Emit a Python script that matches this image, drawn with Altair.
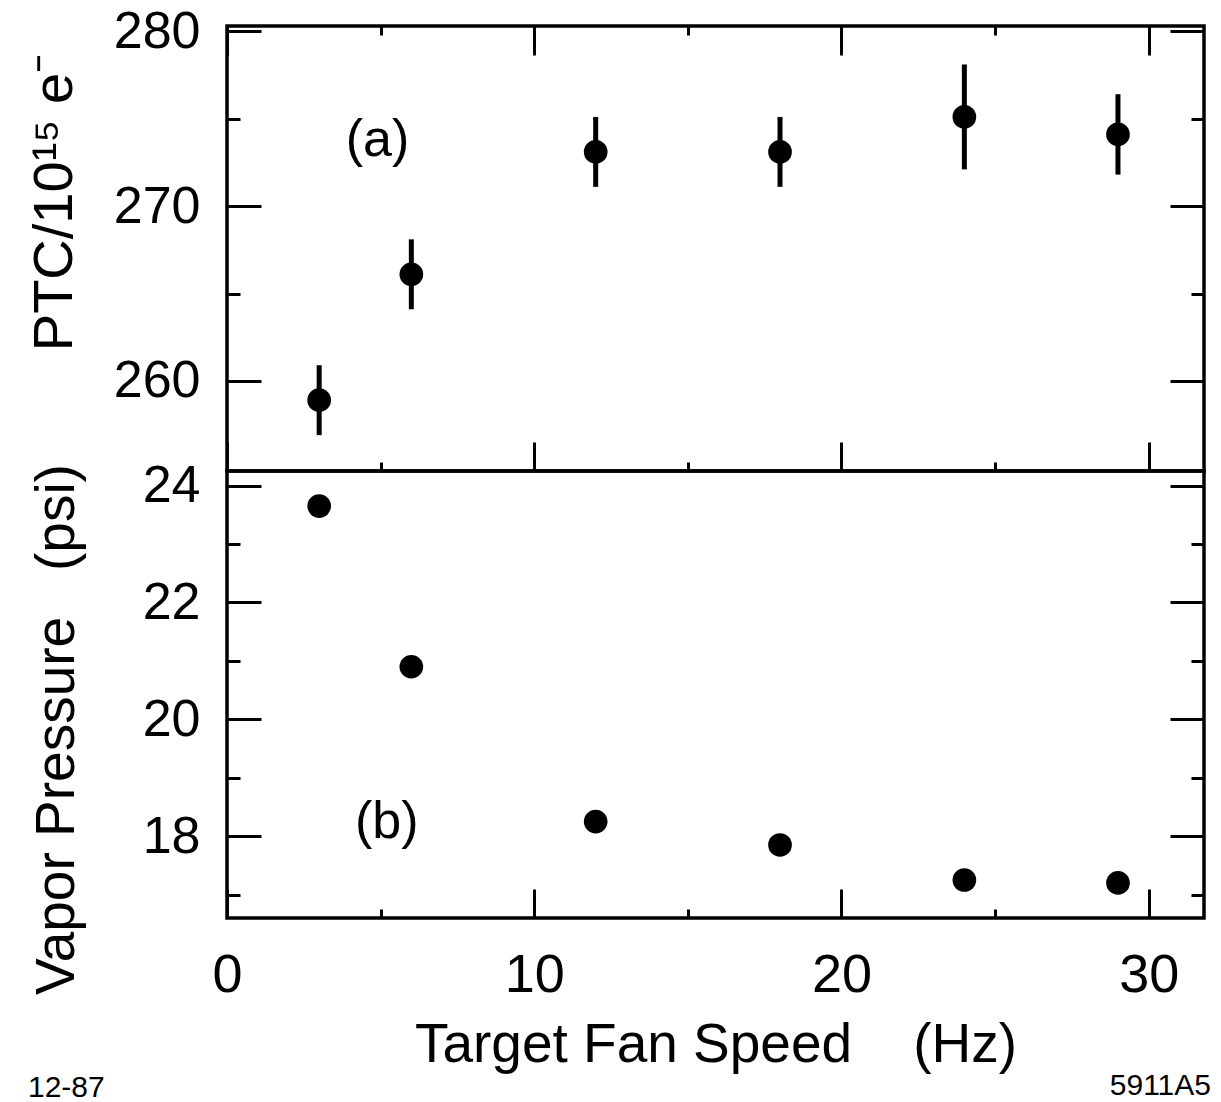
import altair as alt
import pandas as pd

# ---------------- data ----------------
fan_speed = [3, 6, 12, 18, 24, 29]                       # Hz
ptc = [258.9, 266.1, 273.1, 273.1, 275.1, 274.1]          # PTC / 1e15 e-
ptc_err = [2.0, 2.0, 2.0, 2.0, 3.0, 2.3]
vapor = [23.65, 20.9, 18.25, 17.85, 17.25, 17.2]          # psi

x_tick_values = [0, 5, 10, 15, 20, 25, 30]
ptc_tick_values = [260, 265, 270, 275, 280]
vapor_tick_values = [17, 18, 19, 20, 21, 22, 23, 24]

x_domain = [0, 31.8]
ptc_domain = [254.85, 280.3]
vapor_domain = [16.6, 24.25]

x_title = "Target Fan Speed\u00a0\u00a0\u00a0\u00a0(Hz)"
ptc_title = "PTC/10\u00b9\u2075 e\u207b"
vapor_title = "Vapor Pressure\u00a0\u00a0\u00a0(psi)"
panel_a = ["(a)"]
panel_a_x = [4.9]
panel_a_y = [273.8]
panel_b = ["(b)"]
panel_b_x = [5.2]
panel_b_y = [18.25]
note_left = ["12-87"]
note_right = ["5911A5"]

FONT = "Liberation Sans"
W = 977
H_TOP = 445
H_BOT = 447

df = pd.DataFrame({
    "speed": fan_speed,
    "ptc": ptc,
    "lo": [p - e for p, e in zip(ptc, ptc_err)],
    "hi": [p + e for p, e in zip(ptc, ptc_err)],
    "vapor": vapor,
})

xs = alt.Scale(domain=x_domain, nice=False, zero=False)
ys_top = alt.Scale(domain=ptc_domain, nice=False, zero=False)
ys_bot = alt.Scale(domain=vapor_domain, nice=False, zero=False)

X_TICK = {"expr": "datum.value % 10 === 0 ? -29 : -9"}
PTC_TICK = {"expr": "datum.value % 10 === 0 ? -34 : -13"}
VAP_TICK = {"expr": "datum.value % 2 === 0 ? -34 : -13"}


def tick_axis(orient, values, size):
    return alt.Axis(orient=orient, values=values, tickSize=size, tickWidth=3,
                    tickColor="black", labels=False, domain=False, grid=False,
                    title=None)


# ---------------- top panel ----------------
y_left_top = alt.Axis(
    orient="left", values=ptc_tick_values, tickSize=PTC_TICK, tickWidth=3,
    tickColor="black", labelExpr="datum.value % 10 === 0 ? datum.label : ''",
    labelFont=FONT, labelFontSize=52, labelColor="black", labelPadding=61,
    labelOverlap=False, labelFlush=False, domain=False, grid=False,
    title=ptc_title, titleFont=FONT, titleFontSize=56, titleFontWeight="normal",
    titleColor="black", titleX=-156, titleY=176, titleAngle=270,
    titleBaseline="alphabetic", titleAlign="center")

err = alt.Chart(df).mark_rule(color="black", strokeWidth=5).encode(
    x=alt.X("speed:Q", scale=xs, axis=tick_axis("top", x_tick_values, X_TICK)),
    y=alt.Y("lo:Q", scale=ys_top, axis=y_left_top),
    y2="hi:Q",
)
pts_top = alt.Chart(df).mark_circle(color="black", opacity=1, size=560).encode(
    x=alt.X("speed:Q", scale=xs, axis=tick_axis("bottom", x_tick_values, X_TICK)),
    y=alt.Y("ptc:Q", scale=ys_top, axis=tick_axis("right", ptc_tick_values, PTC_TICK)),
)
lab_a = alt.Chart(pd.DataFrame({"x": panel_a_x, "y": panel_a_y, "t": panel_a})).mark_text(
    font=FONT, fontSize=52, color="black", align="center", baseline="middle"
).encode(
    x=alt.X("x:Q", scale=xs, axis=None),
    y=alt.Y("y:Q", scale=ys_top, axis=None),
    text="t:N",
)
top = alt.layer(err, pts_top, lab_a).resolve_axis(x="independent", y="independent").properties(
    width=W, height=H_TOP)

# ---------------- bottom panel ----------------
x_bottom = alt.Axis(
    orient="bottom", values=x_tick_values, tickSize=X_TICK, tickWidth=3,
    tickColor="black", labelExpr="datum.value % 10 === 0 ? datum.label : ''",
    labelFont=FONT, labelFontSize=54, labelColor="black", labelPadding=59,
    labelOverlap=False, labelFlush=False, domain=False, grid=False,
    title=x_title, titleFont=FONT, titleFontSize=55, titleFontWeight="normal",
    titleColor="black", titleY=143, titleBaseline="alphabetic")
y_left_bot = alt.Axis(
    orient="left", values=vapor_tick_values, tickSize=VAP_TICK, tickWidth=3,
    tickColor="black", labelExpr="datum.value % 2 === 0 ? datum.label : ''",
    labelFont=FONT, labelFontSize=52, labelColor="black", labelPadding=61,
    labelOverlap=False, labelFlush=False, domain=False, grid=False,
    title=vapor_title, titleFont=FONT, titleFontSize=55, titleFontWeight="normal",
    titleColor="black", titleX=-154, titleY=258, titleAngle=270,
    titleBaseline="alphabetic", titleAlign="center")

pts_bot = alt.Chart(df).mark_circle(color="black", opacity=1, size=560).encode(
    x=alt.X("speed:Q", scale=xs, axis=x_bottom),
    y=alt.Y("vapor:Q", scale=ys_bot, axis=y_left_bot),
)
lab_b = alt.Chart(pd.DataFrame({"x": panel_b_x, "y": panel_b_y, "t": panel_b})).mark_text(
    font=FONT, fontSize=52, color="black", align="center", baseline="middle"
).encode(
    x=alt.X("x:Q", scale=xs, axis=None),
    y=alt.Y("y:Q", scale=ys_bot, axis=tick_axis("right", vapor_tick_values, VAP_TICK)),
    text="t:N",
)
n_left = alt.Chart(pd.DataFrame({"t": note_left})).mark_text(
    font=FONT, fontSize=30, color="black", align="left", baseline="alphabetic"
).encode(x=alt.value(-199), y=alt.value(626), text="t:N")
n_right = alt.Chart(pd.DataFrame({"t": note_right})).mark_text(
    font=FONT, fontSize=30, color="black", align="right", baseline="alphabetic"
).encode(x=alt.value(984), y=alt.value(624), text="t:N")

bottom = alt.layer(pts_bot, lab_b, n_left, n_right).resolve_axis(
    x="independent", y="independent").properties(width=W, height=H_BOT)

chart = alt.vconcat(top, bottom, spacing=0, bounds="flush").properties(
    padding={"left": 24, "top": 3, "right": 5, "bottom": 0},
    background="white",
).configure_view(stroke="black", strokeWidth=3.5)

chart.save("out.html", embed_options={"renderer": "svg", "actions": False})
